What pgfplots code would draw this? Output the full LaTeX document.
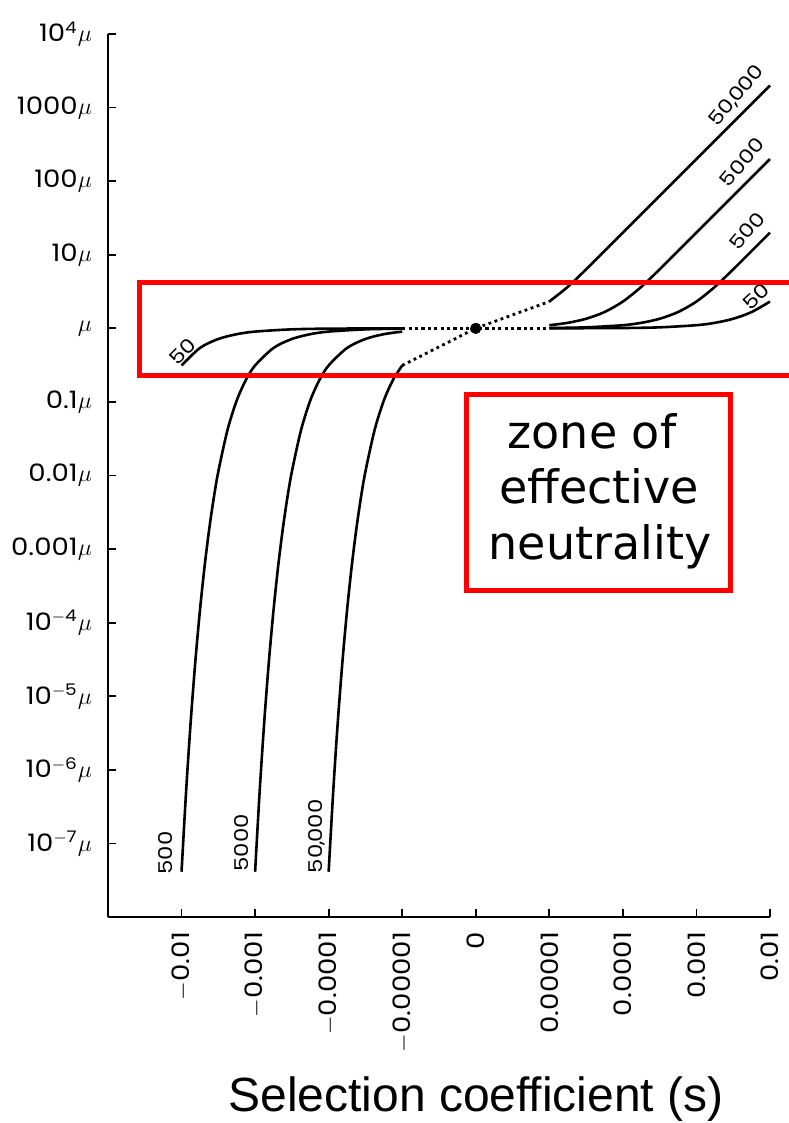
\documentclass[border=0pt]{standalone}
\usepackage{pgfplots}
\pgfplotsset{compat=1.18}
\usepackage{fontspec}
\setmainfont{Poppins}
\newfontfamily\tickf[FakeStretch=1.15]{Poppins}
\newfontfamily\lblf[FakeStretch=1.2]{Poppins}
\newfontfamily\arialf{Liberation Sans}
\newfontfamily\comicf{DejaVu Sans}
\newcommand\cm{\kern-0.6pt,\kern-0.6pt}
\begin{document}
\begin{tikzpicture}
\begin{axis}[
    scale only axis,
    width=331pt, height=441.5pt,
    xmin=-5, xmax=4,
    ymode=log, ymin=1e-8, ymax=1e4,
    axis x line*=bottom, axis y line*=left,
    axis line style={line width=1pt},
    tick align=inside,
    major tick length=4pt,
    every tick/.style={black, line width=0.9pt},
    yminorticks=false,
    xtick={-4,-3,-2,-1,0,1,2,3,4},
    xticklabels={$-$0.01,$-$0.001,$-$0.0001,$-$0.00001,0,0.00001,0.0001,0.001,0.01},
    ytick={1e-7,1e-6,1e-5,1e-4,1e-3,1e-2,1e-1,1,10,100,1000,1e4},
    yticklabels={10\textsuperscript{$-$7}$\mu$,10\textsuperscript{$-$6}$\mu$,10\textsuperscript{$-$5}$\mu$,10\textsuperscript{$-$4}$\mu$,0.001$\mu$,0.01$\mu$,0.1$\mu$,$\mu$,10$\mu$,100$\mu$,1000$\mu$,10\textsuperscript{4}$\mu$},
    x tick label style={rotate=90, anchor=east, font=\tickf\fontsize{12}{14}\selectfont},
    y tick label style={font=\tickf\fontsize{12}{14}\selectfont},
    xticklabel shift=4pt,
    yticklabel shift=4.5pt,
    clip=false,
]
% negative s, N = 50
\addplot[black, line width=1.3pt, smooth] coordinates {
(-4,0.3130) (-3.75,0.5409) (-3.5,0.7169) (-3.25,0.8326) (-3,0.9033) (-2.5,0.9687) (-2,0.9901) (-1,0.9990)};
% negative s, N = 500
\addplot[black, line width=1.3pt, smooth] coordinates {
(-4,4.1223e-8) (-3.9375,5.2116e-7) (-3.875,4.597e-6) (-3.8125,2.9712e-5) (-3.75,1.4673e-4)
(-3.6875,5.740e-4) (-3.625,1.8335e-3) (-3.5625,4.922e-3) (-3.5,0.011345) (-3.375,0.04168)
(-3.25,0.1045) (-3.125,0.1992) (-3,0.3130) (-2.75,0.5409) (-2.5,0.7169) (-2.25,0.8326)
(-2,0.9033) (-1.5,0.9687) (-1,0.9901)};
% negative s, N = 5000
\addplot[black, line width=1.3pt, smooth] coordinates {
(-3,4.1223e-8) (-2.9375,5.2116e-7) (-2.875,4.597e-6) (-2.8125,2.9712e-5) (-2.75,1.4673e-4)
(-2.6875,5.740e-4) (-2.625,1.8335e-3) (-2.5625,4.922e-3) (-2.5,0.011345) (-2.375,0.04168)
(-2.25,0.1045) (-2.125,0.1992) (-2,0.3130) (-1.75,0.5409) (-1.5,0.7169) (-1.25,0.8326)
(-1,0.9033)};
% negative s, N = 50,000
\addplot[black, line width=1.3pt, smooth] coordinates {
(-2,4.1223e-8) (-1.9375,5.2116e-7) (-1.875,4.597e-6) (-1.8125,2.9712e-5) (-1.75,1.4673e-4)
(-1.6875,5.740e-4) (-1.625,1.8335e-3) (-1.5625,4.922e-3) (-1.5,0.011345) (-1.375,0.04168)
(-1.25,0.1045) (-1.125,0.1992) (-1,0.3130)};
% positive s
\addplot[black, line width=1.3pt, smooth] coordinates {
(1,1.001) (2,1.010) (2.5,1.032) (3,1.1033) (3.25,1.188) (3.5,1.349) (3.75,1.6656) (4,2.313)};
\addplot[black, line width=1.3pt, smooth] coordinates {
(1,1.010) (1.5,1.032) (2,1.1033) (2.25,1.188) (2.5,1.349) (2.75,1.6656) (3,2.313)
(3.25,3.6615) (3.5,6.336) (3.75,11.247) (4,20)};
\addplot[black, line width=1.3pt, smooth] coordinates {
(1,1.1033) (1.25,1.188) (1.5,1.349) (1.75,1.6656) (2,2.313) (2.25,3.6615) (2.5,6.336)
(2.75,11.247) (3,20) (3.5,63.25) (4,200)};
\addplot[black, line width=1.3pt, smooth] coordinates {
(1,2.313) (1.25,3.6615) (1.5,6.336) (1.75,11.247) (2,20) (2.5,63.25) (3,200) (3.5,632.5) (4,2000)};
% dotted near-neutral parts
\addplot[black, line width=1.6pt, dash pattern=on 1.6pt off 1.6pt] coordinates {(-1,1) (0,1) (1,1)};
\addplot[black, line width=1.4pt, dash pattern=on 1.4pt off 1.8pt] coordinates {(-1,0.3130) (0,1) (1,2.313)};
\addplot[black, only marks, mark=*, mark size=2.6pt] coordinates {(0,1)};
% curve labels
\begin{scope}[every node/.style={font=\lblf\fontsize{9.5}{11}\selectfont, inner sep=0pt}]
\node[rotate=50] at (axis cs:3.55,1450) {50\cm000};
\node[rotate=50] at (axis cs:3.62,180) {5000};
\node[rotate=50] at (axis cs:3.69,21) {500};
\node[rotate=42] at (axis cs:3.81,2.7) {50};
\node[rotate=45] at (axis cs:-3.98,0.49) {50};
\node[rotate=90] at (axis cs:-4.22,7.4e-8) {500};
\node[rotate=90] at (axis cs:-3.19,1.02e-7) {5000};
\node[rotate=90] at (axis cs:-2.16,1.25e-7) {50\cm000};
\end{scope}
\end{axis}
% annotations
\draw[red, line width=2.5pt] (15.75pt,270.5pt) rectangle (362pt,317.25pt);
\draw[red, line width=2.5pt] (179pt,163.25pt) rectangle (311.25pt,261.25pt);
\begin{scope}[every node/.style={font=\comicf\fontsize{23}{27}\selectfont, anchor=base, inner sep=0pt}]
\node at (242pt,234pt) {zone of};
\node at (245.5pt,206.5pt) {effective};
\node at (246pt,178.5pt) {neutrality};
\end{scope}
\node[anchor=base, inner sep=0pt, font=\arialf\fontsize{24}{28}\selectfont] at (184pt,-97pt) {Selection coefficient (s)};
\pgfresetboundingbox
\path[use as bounding box] (-54pt,-103pt) rectangle (340pt,458.5pt);
\end{tikzpicture}
\end{document}
